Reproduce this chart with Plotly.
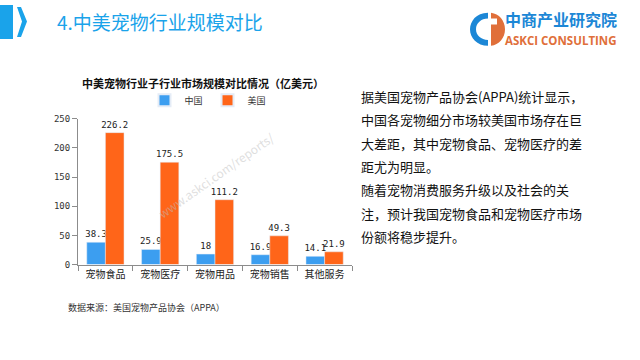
import plotly.graph_objects as go

categories = ["宠物食品", "宠物医疗", "宠物用品", "宠物销售", "其他服务"]
china = [38.3, 25.9, 18, 16.9, 14.1]
usa = [226.2, 175.5, 111.2, 49.3, 21.9]
series_names = ["中国", "美国"]
y_ticks = [0, 50, 100, 150, 200, 250]

body_lines = [
    "据美国宠物产品协会(APPA)统计显示，",
    "中国各宠物细分市场较美国市场存在巨",
    "大差距，其中宠物食品、宠物医疗的差",
    "距尤为明显。",
    "随着宠物消费服务升级以及社会的关",
    "注，预计我国宠物食品和宠物医疗市场",
    "份额将稳步提升。",
]

W, H = 640, 360
def px(x):
    return x / W
def py(y):
    return 1 - y / H

FONT = "Noto Sans CJK SC"
BLUE = "#3c9ef0"
ORANGE = "#ff6519"

fig = go.Figure()
for name, vals, col in [(series_names[0], china, BLUE), (series_names[1], usa, ORANGE)]:
    fig.add_trace(go.Bar(
        x=categories, y=vals, name=name, marker_color=col,
        text=[f"{v:g}" for v in vals], textposition="outside", constraintext="none",
        textfont=dict(size=9, color="#222", family="DejaVu Sans Mono"),
        cliponaxis=False,
    ))

fig.update_layout(
    width=W, height=H,
    margin=dict(l=0, r=0, t=0, b=0),
    paper_bgcolor="white", plot_bgcolor="white",
    barmode="group", bargap=0.32, bargroupgap=0,
    font=dict(family=FONT, size=9, color="#333"),
    showlegend=True,
    legend=dict(orientation="h", x=px(208), y=py(98), xanchor="center", yanchor="middle",
                font=dict(size=9, color="#333"), itemwidth=30, itemsizing="constant",
                tracegroupgap=0, bgcolor="rgba(0,0,0,0)"),
    xaxis=dict(domain=[px(78), px(352)], showgrid=False, showline=True, linecolor="#8c8c8c",
               ticks="outside", tickson="boundaries", ticklen=5, tickcolor="#8c8c8c",
               tickangle=0, tickfont=dict(size=10, color="#222"), fixedrange=True),
    yaxis=dict(domain=[py(267), py(117)], range=[0, 250], tickvals=y_ticks,
               showgrid=False, showline=True, linecolor="#8c8c8c", ticks="outside",
               ticklen=5, tickcolor="#8c8c8c", tickfont=dict(size=9, color="#333",
               family="DejaVu Sans Mono"), zeroline=False, fixedrange=True),
)

shapes = [
    dict(type="rect", xref="paper", yref="paper", x0=px(0), x1=px(13), y0=py(35), y1=py(0),
         fillcolor="#1aa3ea", line_width=0, layer="above"),
    dict(type="path", xref="paper", yref="paper",
         path=f"M {px(17)} {py(2)} L {px(21)} {py(2)} L {px(27)} {py(17)} L {px(21)} {py(33)} L {px(17)} {py(33)} L {px(22)} {py(17)} Z",
         fillcolor="#1aa3ea", line_width=0),
    dict(type="path", xref="paper", yref="paper",
         path=(f"M {px(488)} {py(8)} C {px(476)} {py(8)} {px(470)} {py(17)} {px(470)} {py(25)} "
               f"C {px(470)} {py(34)} {px(477)} {py(42)} {px(488)} {py(42)} L {px(488)} {py(36)} "
               f"C {px(481)} {py(36)} {px(476)} {py(31)} {px(476)} {py(25)} C {px(476)} {py(19)} {px(481)} {py(14)} {px(488)} {py(14)} Z"),
         fillcolor="#1c87d6", line_width=0),
    dict(type="path", xref="paper", yref="paper",
         path=(f"M {px(491)} {py(8)} C {px(499)} {py(9)} {px(505)} {py(16)} {px(505)} {py(25)} "
               f"C {px(505)} {py(34)} {px(499)} {py(41)} {px(491)} {py(42)} L {px(491)} {py(20)} L {px(497)} {py(20)} L {px(497)} {py(14)} L {px(491)} {py(14)} Z"),
         fillcolor="#e06f3a", line_width=0),
]

def ann(text, x, y, size, color, family=FONT, xanchor="left", **kw):
    return dict(text=text, x=px(x), y=py(y), xref="paper", yref="paper", xanchor=xanchor,
                yanchor="middle", font=dict(size=size, color=color, family=family),
                showarrow=False, **kw)

annotations = [
    ann("4.中美宠物行业规模对比", 55, 17, 19, "#1aa3ea"),
    ann("<b>中商产业研究院</b>", 503, 14, 16, "#1c87d6"),
    ann("<b>ASKCI CONSULTING</b>", 503, 37, 11.5, "#e06f3a", family="Open Sans"),
    ann("<b>中美宠物行业子行业市场规模对比情况（亿美元）</b>", 203, 80, 11, "#111", xanchor="center"),
    ann("数据来源：美国宠物产品协会（APPA）", 66, 311, 9, "#333"),
    ann("www.askci.com/reports/", 215, 175, 12, "rgba(190,190,190,0.5)", xanchor="center", textangle=-35),
]
for i, line in enumerate(body_lines):
    annotations.append(ann(line, 359, 94 + 24 * i, 13, "#111"))

fig.update_layout(shapes=shapes, annotations=annotations)
fig.write_html("out.html", config={"displayModeBar": False},
               post_script="document.body.style.margin='0px';")
